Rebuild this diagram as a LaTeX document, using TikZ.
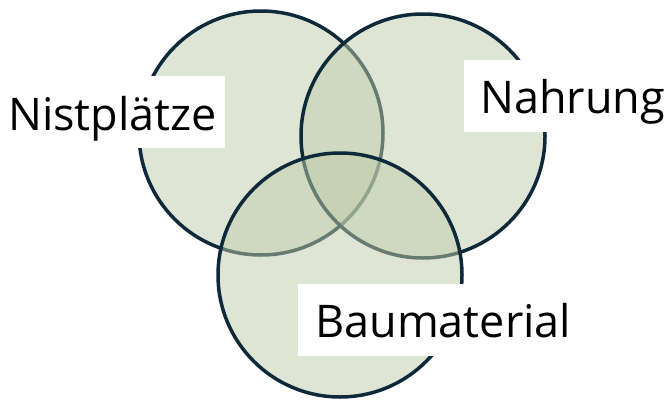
\documentclass[tikz,border=0pt]{standalone}
\usepackage{fontspec}
\setmainfont{Open Sans}
\definecolor{vennfill}{RGB}{191,204,170}
\definecolor{vennline}{RGB}{14,42,58}
\begin{document}
\begin{tikzpicture}[x=1pt,y=-1pt,
  venn/.style={circle, draw=vennline, line width=3.5pt, fill=vennfill, fill opacity=0.5, draw opacity=1, inner sep=0pt, outer sep=0pt, minimum size=244pt},
  labelbox/.style={rectangle, fill=white, draw=none, inner sep=0pt, minimum height=72pt},
  lbl/.style={inner sep=0pt, anchor=base west, font=\fontsize{45}{52}\selectfont, text=black}]
\useasboundingbox (0,0) rectangle (664,399);
\node[venn] (c1) at (261,133) {};
\node[venn] (c2) at (423,136) {};
\node[venn] (c3) at (340,275) {};
\node[labelbox, minimum width=225pt] (b1) at (112.5,112) {};
\node[labelbox, minimum width=200pt] (b2) at (564,96) {};
\node[labelbox, minimum width=293pt] (b3) at (444.5,320) {};
\node[lbl] (t1) at (8,130) {Nistplätze};
\node[lbl] (t2) at (480,113) {Nahrung};
\node[lbl] (t3) at (315,337) {Baumaterial};
\end{tikzpicture}
\end{document}
